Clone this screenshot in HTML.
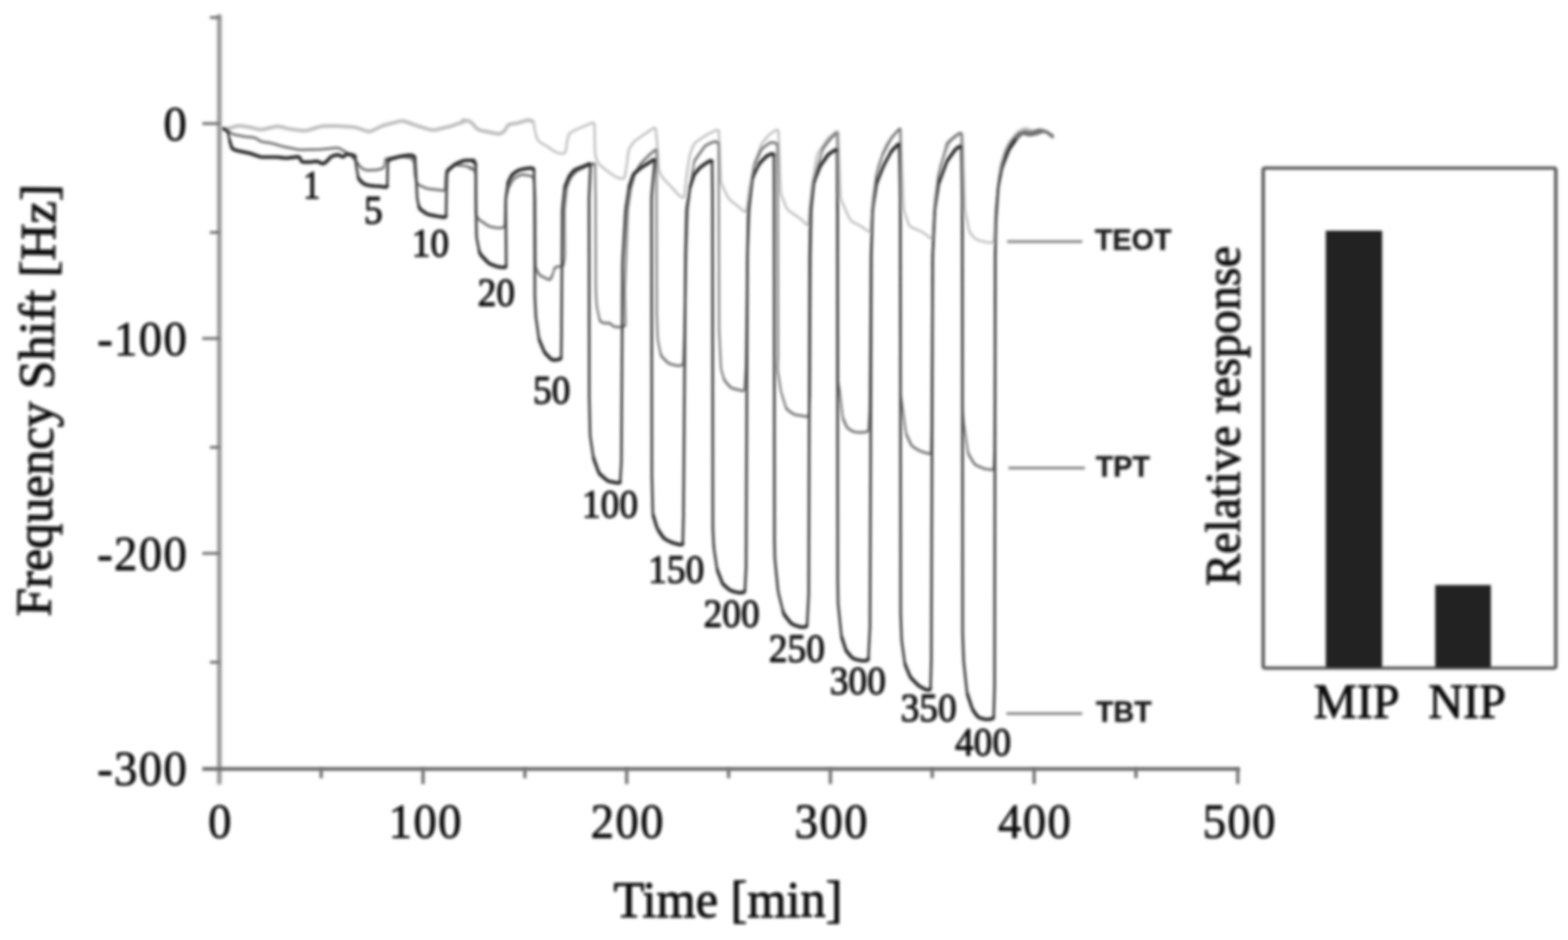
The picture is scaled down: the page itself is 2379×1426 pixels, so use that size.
<!DOCTYPE html>
<html lang="en"><head><meta charset="utf-8"><title>Frequency shift vs time</title>
<style>html,body{margin:0;padding:0;background:#fff;overflow:hidden;width:2379px;height:1426px}svg{display:block}text{font-family:"Liberation Serif","DejaVu Serif",serif;fill:#0c0c0c}.b{font-family:"Liberation Sans","DejaVu Sans",sans-serif;font-weight:bold}</style></head><body>
<svg width="2379" height="1426" viewBox="0 0 2379 1426">
<defs><filter id="bl" filterUnits="userSpaceOnUse" x="0" y="0" width="2379" height="1426"><feGaussianBlur stdDeviation="1.9"/></filter><filter id="by" filterUnits="userSpaceOnUse" x="0" y="0" width="2379" height="1426"><feGaussianBlur stdDeviation="2.4"/></filter><filter id="bk" filterUnits="userSpaceOnUse" x="0" y="0" width="2379" height="1426"><feGaussianBlur stdDeviation="1.6"/></filter><filter id="bt" filterUnits="userSpaceOnUse" x="0" y="0" width="2379" height="1426"><feGaussianBlur stdDeviation="2.0"/></filter></defs>
<rect width="2379" height="1426" fill="#fff"/>
<g filter="url(#bl)" fill="none" stroke-linejoin="round" stroke-linecap="round">
<path d="M338.5,195.4 L341.9,195.4 L343.6,195.3 L345.6,195.1 L347.7,194.6 L350.0,194.0 L357.3,191.8 L359.7,191.2 L362.1,190.9 L364.6,190.9 L367.0,191.1 L374.0,192.2 L376.4,192.6 L378.9,193.0 L381.3,193.5 L383.7,194.1 L390.9,195.9 L393.3,196.4 L395.7,196.5 L398.2,196.4 L400.6,196.0 L416.1,192.4 L418.5,191.9 L421.0,191.8 L423.4,192.0 L425.8,192.4 L432.9,194.2 L435.4,194.8 L437.8,195.3 L440.3,195.7 L442.8,196.1 L458.1,198.1 L460.5,198.3 L463.0,198.3 L465.4,198.0 L467.8,197.4 L483.5,192.7 L485.9,192.0 L488.3,191.6 L490.8,191.3 L493.3,191.2 L508.5,191.2 L511.0,191.2 L513.5,191.3 L516.0,191.4 L518.5,191.6 L533.8,192.6 L536.3,192.8 L538.7,193.2 L541.1,193.8 L543.5,194.5 L555.9,198.8 L558.3,199.4 L560.6,199.5 L562.9,199.1 L565.1,198.2 L576.4,192.6 L578.6,191.6 L580.9,190.6 L583.3,189.8 L585.7,189.2 L606.3,184.0 L608.7,183.6 L611.1,183.6 L613.5,183.9 L615.8,184.6 L626.6,188.6 L629.0,189.5 L631.3,190.3 L633.7,191.1 L636.1,191.8 L651.8,196.5 L654.2,197.1 L656.6,197.3 L659.0,197.2 L661.4,196.8 L676.9,193.2 L679.4,192.6 L681.8,192.0 L684.2,191.3 L686.5,190.5 L702.3,185.2 L704.2,184.5 L705.0,183.8 L704.8,183.3 L703.5,182.8 L703.5,182.8 L702.3,182.5 L702.1,182.3 L703.0,182.4 L705.0,182.6 L708.5,183.0 L710.9,183.5 L713.0,184.4 L715.0,185.7 L716.8,187.4 L721.9,193.4 L723.7,195.1 L725.6,196.4 L727.8,197.4 L730.1,198.1 L737.2,199.5 L739.6,200.0 L742.1,200.5 L744.5,201.0 L747.0,201.5 L754.0,202.9 L756.4,203.1 L758.6,202.8 L760.8,202.0 L762.8,200.7 L763.4,200.2 L765.2,198.6 L766.8,196.8 L768.0,194.9 L769.0,192.9 L769.0,192.9 L770.0,191.0 L771.5,189.6 L773.4,188.6 L775.6,188.1 L779.2,187.6 L781.6,187.3 L784.1,186.8 L786.5,186.3 L788.9,185.6 L796.2,183.4 L798.5,182.8 L800.8,182.5 L803.0,182.5 L805.2,182.8 L805.2,182.8 L807.1,183.5 L808.5,184.7 L809.5,186.4 L810.1,188.6 L811.2,195.5 L811.6,198.0 L812.1,200.4 L812.7,202.9 L813.4,205.3 L814.6,209.2 L815.5,211.4 L816.8,213.4 L818.5,215.0 L820.5,216.4 L823.6,218.2 L825.7,219.5 L827.8,220.8 L830.0,222.1 L832.1,223.5 L838.9,228.0 L841.0,229.3 L843.0,230.4 L845.1,231.3 L847.2,232.0 L847.2,232.0 L849.3,232.6 L851.2,232.9 L853.1,233.0 L854.8,232.9 L854.8,232.9 L856.3,232.4 L857.5,231.3 L858.3,229.7 L858.7,227.5 L859.3,222.3 L859.6,219.8 L860.0,217.3 L860.4,214.9 L861.0,212.4 L862.1,207.0 L862.9,204.8 L864.1,202.8 L865.7,201.2 L867.7,199.9 L872.2,197.7 L874.5,196.6 L876.7,195.5 L879.0,194.5 L881.3,193.5 L894.0,188.1 L896.1,187.3 L897.8,186.7 L899.2,186.3 L900.3,186.2 L900.3,186.2 L901.0,186.5 L901.5,187.4 L901.9,189.0 L902.0,191.2 L902.7,229.1 L902.8,231.6 L903.1,234.1 L903.6,236.5 L904.3,238.9 L905.5,242.8 L906.4,245.1 L907.6,247.2 L909.0,249.1 L910.8,250.9 L915.0,254.4 L916.9,256.0 L918.8,257.6 L920.8,259.1 L922.9,260.6 L931.5,266.6 L933.6,267.9 L935.8,269.0 L938.1,269.9 L940.5,270.5 L942.5,271.0 L944.7,271.1 L946.3,270.5 L947.5,269.2 L948.2,267.1 L949.9,255.9 L950.3,253.4 L950.7,251.0 L951.1,248.5 L951.4,246.0 L953.4,230.7 L953.9,228.3 L954.7,225.9 L955.7,223.7 L957.0,221.7 L959.6,218.0 L961.1,216.1 L962.8,214.3 L964.7,212.6 L966.7,211.2 L973.5,206.6 L975.6,205.2 L977.6,203.8 L979.7,202.4 L981.8,201.0 L990.4,194.9 L992.2,194.0 L993.6,194.0 L994.5,195.0 L995.0,197.0 L996.5,212.3 L996.8,214.8 L997.0,217.3 L997.2,219.8 L997.3,222.3 L999.2,254.4 L999.5,256.8 L1000.1,259.2 L1000.9,261.5 L1002.0,263.7 L1003.8,266.8 L1005.1,268.9 L1006.5,271.0 L1008.1,272.9 L1009.8,274.7 L1016.2,281.1 L1017.9,282.9 L1019.7,284.7 L1021.3,286.5 L1023.0,288.4 L1026.6,292.6 L1028.3,294.4 L1030.1,296.1 L1032.0,297.6 L1034.0,298.9 L1034.0,298.9 L1035.9,299.7 L1037.3,299.6 L1038.3,298.5 L1038.7,296.5 L1041.1,272.8 L1041.4,270.3 L1041.7,267.8 L1042.0,265.3 L1042.3,262.9 L1045.9,239.1 L1046.4,236.6 L1046.9,234.2 L1047.7,231.8 L1048.5,229.5 L1051.5,222.0 L1052.6,219.7 L1053.9,217.8 L1055.6,216.0 L1057.5,214.4 L1066.1,208.4 L1068.2,207.0 L1070.3,205.7 L1072.5,204.5 L1074.7,203.3 L1085.9,197.7 L1087.9,197.0 L1089.3,197.2 L1090.3,198.4 L1090.6,200.4 L1091.9,229.1 L1092.0,231.6 L1092.1,234.1 L1092.2,236.6 L1092.3,239.1 L1093.3,271.2 L1093.5,273.7 L1094.0,276.1 L1094.6,278.4 L1095.6,280.7 L1103.1,296.9 L1104.3,299.1 L1105.7,301.1 L1107.3,302.9 L1109.1,304.6 L1118.2,311.8 L1120.1,313.4 L1122.1,314.9 L1124.0,316.5 L1125.9,318.1 L1128.3,320.1 L1130.0,321.2 L1131.4,321.3 L1132.3,320.3 L1132.8,318.4 L1136.6,289.6 L1136.9,287.1 L1137.3,284.6 L1137.7,282.2 L1138.2,279.7 L1143.0,255.9 L1143.5,253.4 L1144.1,251.0 L1144.8,248.6 L1145.6,246.2 L1154.1,222.0 L1155.0,219.7 L1156.1,217.6 L1157.5,215.5 L1159.0,213.6 L1165.9,205.9 L1167.6,204.1 L1169.4,202.5 L1171.4,201.0 L1173.5,199.7 L1176.6,197.9 L1178.5,197.1 L1179.9,197.3 L1180.8,198.4 L1181.1,200.4 L1184.2,288.0 L1184.4,290.5 L1184.8,292.9 L1185.4,295.3 L1186.2,297.7 L1192.6,313.6 L1193.6,315.8 L1195.0,317.8 L1196.7,319.5 L1198.6,321.1 L1210.5,329.0 L1212.5,330.4 L1214.5,331.9 L1216.4,333.6 L1218.2,335.3 L1222.9,340.0 L1224.4,341.2 L1225.6,341.4 L1226.4,340.5 L1226.8,338.5 L1231.0,289.6 L1231.3,287.1 L1231.6,284.6 L1231.9,282.2 L1232.3,279.7 L1239.0,239.1 L1239.6,236.7 L1240.4,234.3 L1241.4,232.1 L1242.6,230.0 L1253.9,213.1 L1255.4,211.0 L1257.0,209.2 L1258.7,207.4 L1260.6,205.8 L1267.9,200.2 L1269.6,199.2 L1270.9,199.1 L1271.7,200.1 L1272.0,202.1 L1275.0,296.5 L1275.2,298.9 L1275.7,301.3 L1276.3,303.7 L1277.3,306.0 L1288.3,330.5 L1289.5,332.7 L1291.0,334.5 L1292.7,336.1 L1294.8,337.3 L1302.7,341.3 L1304.9,342.5 L1307.1,343.7 L1309.1,345.1 L1311.2,346.5 L1316.6,350.6 L1318.4,351.6 L1319.7,351.6 L1320.6,350.6 L1321.0,348.6 L1323.7,306.4 L1323.9,303.9 L1324.1,301.5 L1324.4,299.0 L1324.8,296.5 L1331.6,255.9 L1332.1,253.5 L1332.7,251.0 L1333.4,248.7 L1334.3,246.3 L1344.0,222.0 L1345.0,219.7 L1346.2,217.5 L1347.6,215.5 L1349.1,213.5 L1362.8,197.5 L1364.3,196.2 L1365.3,196.0 L1366.0,196.8 L1366.3,198.7 L1370.9,313.3 L1371.1,315.8 L1371.5,318.2 L1372.0,320.6 L1372.7,323.0 L1378.0,338.8 L1378.9,341.0 L1380.3,342.8 L1382.0,344.3 L1384.2,345.4 L1395.1,350.0 L1397.4,351.0 L1399.6,352.2 L1401.7,353.5 L1403.7,355.0 L1410.9,360.6 L1412.7,361.7 L1414.0,361.7 L1414.8,360.7 L1415.1,358.7 L1418.0,306.4 L1418.1,304.0 L1418.4,301.5 L1418.7,299.0 L1419.1,296.5 L1425.8,255.9 L1426.3,253.5 L1426.9,251.0 L1427.7,248.7 L1428.5,246.3 L1439.9,218.6 L1441.0,216.4 L1442.3,214.4 L1444.0,212.6 L1445.8,211.0 L1456.3,203.4 L1458.0,202.5 L1459.3,202.5 L1460.1,203.5 L1460.5,205.5 L1463.8,313.3 L1463.9,315.8 L1464.2,318.3 L1464.5,320.7 L1464.9,323.2 L1469.7,347.0 L1470.3,349.4 L1471.2,351.7 L1472.4,353.8 L1473.9,355.7 L1477.5,359.9 L1479.2,361.7 L1481.2,363.1 L1483.3,364.2 L1485.6,364.9 L1489.4,365.9 L1491.8,366.4 L1494.3,366.9 L1496.7,367.4 L1499.2,367.7 L1502.7,368.1 L1504.9,368.1 L1506.5,367.4 L1507.6,365.9 L1508.0,363.8 L1510.7,323.3 L1510.9,320.8 L1511.1,318.3 L1511.3,315.8 L1511.6,313.3 L1517.3,255.9 L1517.6,253.5 L1518.1,251.0 L1518.7,248.6 L1519.4,246.2 L1526.3,225.4 L1527.2,223.1 L1528.2,220.9 L1529.5,218.7 L1530.9,216.7 L1540.0,204.5 L1541.6,202.6 L1543.4,200.9 L1545.3,199.3 L1547.4,198.0 L1550.5,196.2 L1552.7,195.3 L1554.9,194.8 L1557.2,194.9 L1559.5,195.5 L1563.6,197.0 L1565.9,197.7 L1568.2,197.9 L1570.4,197.7 L1572.5,197.1 L1572.5,197.1 L1574.6,196.5 L1576.8,196.2 L1579.1,196.3 L1581.5,196.8 L1583.7,197.4 L1586.0,198.2 L1588.2,199.2 L1590.4,200.5 L1592.4,201.9 L1596.9,205.5" stroke="#bcbcbc" stroke-width="3.4"/>
<path d="M338.5,195.4 L341.9,195.4 L343.6,195.3 L345.6,195.1 L347.7,194.6 L350.0,194.0 L357.3,191.8 L359.7,191.2 L362.1,190.9 L364.6,190.9 L367.0,191.1 L374.0,192.2 L376.4,192.6 L378.9,193.0 L381.3,193.5 L383.7,194.1 L390.9,195.9 L393.3,196.4 L395.7,196.5 L398.2,196.4 L400.6,196.0 L416.1,192.4 L418.5,191.9 L421.0,191.8 L423.4,192.0 L425.8,192.4 L432.9,194.2 L435.4,194.8 L437.8,195.3 L440.3,195.7 L442.8,196.1 L458.1,198.1 L460.5,198.3 L463.0,198.3 L465.4,198.0 L467.8,197.4 L483.5,192.7 L485.9,192.0 L488.3,191.6 L490.8,191.3 L493.3,191.2 L508.5,191.2 L511.0,191.2 L513.5,191.3 L516.0,191.4 L518.5,191.6 L533.8,192.6 L536.3,192.8 L538.7,193.2 L541.1,193.8 L543.5,194.5 L555.9,198.8 L558.3,199.4 L560.6,199.5 L562.9,199.1 L565.1,198.2 L576.4,192.6 L578.6,191.6 L580.9,190.6 L583.3,189.8 L585.7,189.2 L606.3,184.0 L608.7,183.6 L611.1,183.6 L613.5,183.9 L615.8,184.6 L626.6,188.6 L629.0,189.5 L631.3,190.3 L633.7,191.1 L636.1,191.8 L651.8,196.5 L654.2,197.1 L656.6,197.3 L659.0,197.2 L661.4,196.8 L676.9,193.2 L679.4,192.6 L681.8,192.0 L684.2,191.3 L686.5,190.5 L702.3,185.2 L704.2,184.5 L705.0,183.8 M704.8,183.3 L703.5,182.8 L703.5,182.8 L702.3,182.5 L702.1,182.3 L703.0,182.4 L705.0,182.6 L708.5,183.0 L710.9,183.5 L713.0,184.4 L715.0,185.7 L716.8,187.4 L721.9,193.4 L723.7,195.1 L725.6,196.4 L727.8,197.4 L730.1,198.1 L737.2,199.5 L739.6,200.0 L742.1,200.5 L744.5,201.0 L747.0,201.5 L754.0,202.9 L756.4,203.1 L758.6,202.8 L760.8,202.0 L762.8,200.7 L763.4,200.2 L765.2,198.6 L766.8,196.8 M769.0,192.9 L769.0,192.9 M770.0,191.0 L771.5,189.6 L773.4,188.6 L775.6,188.1 L779.2,187.6 L781.6,187.3 L784.1,186.8 L786.5,186.3 L788.9,185.6 L796.2,183.4 L798.5,182.8 L800.8,182.5 L803.0,182.5 L805.2,182.8 L805.2,182.8 L807.1,183.5 L808.5,184.7" stroke="#bcbcbc" stroke-width="5.4"/>
<path d="M338.5,195.4 L341.9,197.1 L343.6,198.0 L345.3,198.9 L347.0,199.9 L348.7,200.9 L350.2,201.8 L352.0,202.7 L353.8,203.5 L355.6,204.2 L357.6,204.6 L366.6,206.4 L368.5,206.8 L370.5,207.1 L372.5,207.4 L374.5,207.6 L383.3,208.5 L385.3,208.8 L387.1,209.4 L388.9,210.2 L390.6,211.2 L392.4,212.5 L394.1,213.5 L395.9,214.4 L397.7,215.0 L399.7,215.4 L408.6,216.7 L410.6,217.0 L412.5,217.5 L414.5,217.9 L416.4,218.5 L425.6,221.2 L427.5,221.8 L429.4,222.3 L431.3,222.7 L433.3,223.1 L450.7,226.6 L452.7,227.0 L454.6,227.2 L456.6,227.3 L458.6,227.3 L484.3,226.7 L486.3,226.6 L488.3,226.5 L490.3,226.3 L492.3,226.2 L509.5,224.4 L511.5,224.4 L513.4,224.7 L515.2,225.2 L517.0,226.1 L518.5,227.0 L520.2,228.1 L521.9,229.1 L523.7,230.1 L525.4,231.1 L526.9,232.1 L528.6,233.2 L530.2,234.3 L531.7,235.6 L533.2,237.0 L537.6,241.4 L539.0,242.9 L540.3,244.4 L541.5,245.9 L542.7,247.6 L545.0,251.0 L546.2,252.6 L547.5,253.9 L549.1,255.1 L550.8,256.1 L552.0,256.8 L553.8,257.5 L555.7,258.0 L557.6,258.3 L559.6,258.3 L568.4,257.9 L570.4,257.8 L572.4,257.5 L574.4,257.2 L576.3,256.7 L578.6,256.1 L580.4,255.5 L581.7,254.4 L582.6,253.0 L583.1,251.2 L583.6,248.2 L583.9,246.4 L584.2,244.8 L584.4,243.5 L584.6,242.6 L584.6,242.6 L585.1,241.8 L585.9,241.1 L587.2,240.6 L589.0,240.2 L602.1,238.1 L604.1,237.9 L606.1,237.8 L608.1,237.8 L610.1,237.9 L618.9,238.8 L620.8,239.1 L622.5,239.7 L624.1,240.6 L625.4,241.7 L625.4,241.7 L626.5,243.1 L627.4,244.6 L628.0,246.3 L628.2,248.2 L629.3,263.8 L629.5,265.8 L629.8,267.8 L630.2,269.7 L630.7,271.6 L631.9,275.7 L632.6,277.5 L633.6,279.0 L635.0,280.2 L636.7,281.2 L644.5,284.7 L646.3,285.4 L648.2,286.0 L650.2,286.4 L652.1,286.7 L661.0,287.6 L663.0,287.8 L665.0,288.1 L666.9,288.3 L668.9,288.6 L671.1,289.0 L672.9,289.1 L674.1,288.5 L674.9,287.4 L675.2,285.7 L675.8,271.8 L675.9,269.8 L676.0,267.8 L676.3,265.8 L676.6,263.8 L676.9,261.6 L677.4,259.8 L678.3,258.2 L679.5,256.8 L681.0,255.6 L686.8,252.2 L688.5,251.3 L690.4,250.7 L692.2,250.5 L694.2,250.5 L703.1,251.4 L705.0,251.7 L707.0,252.0 L708.9,252.5 L710.8,253.0 L716.2,254.8 L717.6,255.3 L718.1,255.5 L717.5,255.6 L716.1,255.3 L714.0,255.0 L712.6,254.8 L712.0,254.8 L712.5,255.1 L713.9,255.6 L716.4,256.4 L718.1,257.2 L719.4,258.4 L720.3,259.8 L720.9,261.6 L721.2,263.8 L721.5,265.8 L721.7,267.8 L721.8,269.8 L721.9,271.8 L721.9,322.7 L722.0,324.6 L722.5,326.5 L723.2,328.2 L724.3,329.9 L724.5,330.2 L725.8,331.8 L727.2,333.2 L728.6,334.5 L730.3,335.6 L738.7,341.3 L740.4,342.3 L742.2,343.2 L744.1,343.8 L746.0,344.3 L751.6,345.3 L753.6,345.6 L755.5,345.8 L757.5,345.8 L759.5,345.7 L761.6,345.5 L763.4,345.1 L764.7,344.3 L765.5,343.0 L765.8,341.2 L767.2,305.4 L767.3,303.5 L767.5,301.5 L767.9,299.5 L768.4,297.6 L771.3,286.8 L771.9,284.9 L772.6,283.0 L773.4,281.2 L774.3,279.5 L777.1,274.6 L778.2,273.0 L779.5,271.5 L780.9,270.3 L782.6,269.2 L787.4,266.4 L789.2,265.6 L791.0,265.1 L792.9,264.9 L794.8,265.1 L797.0,265.5 L799.0,265.8 L801.0,266.1 L802.9,266.5 L804.9,266.9 L805.5,267.0 L807.2,267.6 L808.5,268.6 L809.3,270.0 L809.7,271.8 L811.7,296.0 L811.8,298.0 L811.9,300.0 L812.0,302.0 L812.0,304.0 L812.5,386.0 L812.5,388.0 L812.5,390.0 L812.5,392.0 L812.6,394.0 L812.7,401.2 L812.8,403.2 L813.1,405.2 L813.6,407.1 L814.3,408.9 L816.2,413.3 L817.1,415.1 L818.3,416.5 L819.7,417.8 L821.4,418.8 L831.0,423.6 L832.7,424.2 L834.1,424.1 L835.3,423.3 L836.2,421.8 L838.1,417.3 L838.8,415.5 L839.5,413.6 L840.0,411.7 L840.5,409.7 L840.6,409.2 L841.2,407.4 L842.2,406.1 L843.5,405.2 L845.3,404.7 L850.8,404.1 L852.6,403.6 L854.0,402.7 L854.9,401.4 L855.5,399.6 L856.4,393.9 L856.6,392.0 L856.8,390.0 L856.9,388.0 L857.0,386.0 L856.5,322.3 L856.5,320.3 L856.6,318.3 L856.7,316.3 L856.9,314.3 L859.5,288.6 L859.7,286.6 L860.1,284.7 L860.7,282.8 L861.4,280.9 L865.1,271.5 L865.9,269.7 L866.9,268.0 L868.1,266.4 L869.4,265.0 L872.2,262.2 L873.6,260.9 L875.2,259.6 L876.8,258.6 L878.6,257.6 L881.5,256.1 L883.3,255.2 L885.1,254.4 L887.0,253.6 L888.8,252.8 L893.2,250.9 L895.0,250.1 L896.7,249.5 L898.3,248.9 L899.8,248.4 L899.8,248.4 L901.1,248.3 L902.1,248.8 L902.6,249.9 L902.8,251.6 L903.5,296.0 L903.6,298.0 L903.6,300.0 L903.6,302.0 L903.6,304.0 L904.0,436.0 L904.0,438.0 L904.1,440.0 L904.1,442.0 L904.2,444.0 L905.1,460.1 L905.2,462.1 L905.5,464.1 L905.8,466.1 L906.1,468.1 L909.5,483.8 L910.1,485.6 L911.1,487.1 L912.4,488.3 L914.1,489.2 L915.0,489.6 L916.8,490.2 L918.5,490.5 L920.0,490.5 L921.3,490.2 L921.3,490.2 L922.6,490.0 L924.0,490.2 L925.4,490.8 L926.9,491.9 L929.1,493.6 L930.7,494.7 L932.4,495.5 L934.3,496.0 L936.2,496.1 L940.0,496.1 L941.9,496.1 L943.6,495.9 L945.2,495.6 L946.5,495.3 L946.5,495.3 L947.6,494.7 L948.4,493.6 L948.9,492.2 L949.0,490.4 L948.1,444.0 L948.1,442.0 L948.1,440.0 L948.1,438.0 L948.2,436.0 L949.8,394.0 L949.9,392.0 L950.0,390.0 L950.1,388.0 L950.1,386.0 L952.3,322.3 L952.4,320.3 L952.5,318.3 L952.7,316.3 L953.0,314.3 L956.9,288.6 L957.2,286.6 L957.6,284.7 L958.0,282.7 L958.6,280.8 L963.1,264.9 L963.7,263.0 L964.5,261.2 L965.3,259.4 L966.3,257.7 L970.5,251.0 L971.6,249.3 L972.8,247.7 L974.1,246.2 L975.4,244.8 L983.2,237.0 L984.7,235.6 L986.1,234.2 L987.6,232.9 L989.1,231.6 L993.1,228.3 L994.4,227.4 L995.4,227.4 L996.0,228.1 L996.2,229.7 L996.0,296.0 L996.0,298.0 L996.0,300.0 L996.0,302.0 L996.0,304.0 L996.5,476.0 L996.5,478.0 L996.5,480.0 L996.6,482.0 L996.7,484.0 L997.7,510.6 L997.8,512.6 L998.0,514.6 L998.3,516.6 L998.6,518.5 L1002.1,535.9 L1002.6,537.8 L1003.4,539.6 L1004.4,541.2 L1005.7,542.7 L1011.9,548.8 L1013.3,550.1 L1014.9,551.2 L1016.7,552.0 L1018.6,552.6 L1024.3,554.0 L1026.2,554.4 L1028.2,554.7 L1030.1,554.7 L1032.1,554.6 L1032.6,554.6 L1034.3,554.1 L1035.6,553.3 L1036.4,551.9 L1036.7,550.2 L1038.4,504.0 L1038.4,502.0 L1038.5,500.0 L1038.5,498.0 L1038.6,496.0 L1040.9,394.0 L1041.0,392.0 L1041.0,390.0 L1041.1,388.0 L1041.1,386.0 L1043.2,322.3 L1043.2,320.3 L1043.4,318.3 L1043.5,316.3 L1043.8,314.3 L1047.9,280.2 L1048.1,278.2 L1048.4,276.2 L1048.7,274.2 L1049.0,272.3 L1052.8,248.2 L1053.2,246.3 L1053.8,244.4 L1054.7,242.7 L1055.7,241.0 L1067.9,223.9 L1069.1,222.4 L1070.5,221.1 L1072.1,220.0 L1073.9,219.1 L1081.7,215.6 L1083.5,215.0 L1085.1,214.8 L1086.6,215.0 L1087.9,215.6 L1087.9,215.6 L1089.0,216.6 L1089.8,217.9 L1090.3,219.5 L1090.4,221.3 L1090.5,296.0 L1090.5,298.0 L1090.5,300.0 L1090.5,302.0 L1090.5,304.0 L1091.0,496.0 L1091.0,498.0 L1091.0,500.0 L1091.1,502.0 L1091.2,504.0 L1093.7,556.0 L1093.9,558.0 L1094.1,560.0 L1094.5,561.9 L1095.1,563.8 L1097.8,573.0 L1098.5,574.9 L1099.3,576.6 L1100.3,578.3 L1101.6,579.9 L1106.5,585.6 L1107.8,587.0 L1109.4,588.1 L1111.1,589.0 L1112.9,589.6 L1125.4,592.7 L1127.1,592.9 L1128.3,592.4 L1129.2,591.4 L1129.5,589.7 L1131.2,564.0 L1131.4,562.0 L1131.4,560.0 L1131.5,558.0 L1131.6,556.0 L1133.9,394.0 L1134.0,392.0 L1134.0,390.0 L1134.1,388.0 L1134.2,386.0 L1137.0,322.3 L1137.1,320.3 L1137.3,318.3 L1137.4,316.3 L1137.6,314.3 L1143.5,254.9 L1143.8,253.0 L1144.3,251.1 L1144.9,249.2 L1145.6,247.3 L1154.0,229.4 L1155.0,227.6 L1156.1,226.0 L1157.4,224.6 L1158.9,223.3 L1166.0,218.0 L1167.6,217.0 L1169.4,216.4 L1171.2,216.1 L1173.1,216.3 L1175.3,216.7 L1177.1,217.2 L1178.3,218.1 L1179.1,219.5 L1179.3,221.3 L1180.0,296.0 L1180.0,298.0 L1180.0,300.0 L1180.0,302.0 L1180.0,304.0 L1180.5,536.0 L1180.5,538.0 L1180.5,540.0 L1180.4,542.0 L1180.3,544.0 L1179.9,556.0 L1179.9,558.0 L1179.9,560.0 L1180.1,562.0 L1180.3,564.0 L1184.2,589.7 L1184.5,591.7 L1184.9,593.6 L1185.4,595.6 L1186.0,597.5 L1192.0,616.8 L1192.7,618.6 L1193.7,620.2 L1194.9,621.6 L1196.4,622.9 L1201.7,626.7 L1203.4,627.7 L1205.1,628.6 L1207.0,629.2 L1208.9,629.6 L1222.9,631.8 L1224.6,631.8 L1225.9,631.2 L1226.8,630.1 L1227.1,628.4 L1228.7,604.0 L1228.9,602.0 L1228.9,600.0 L1229.0,598.0 L1229.0,596.0 L1230.0,394.0 L1230.0,392.0 L1230.0,390.0 L1230.0,388.0 L1230.1,386.0 L1231.4,322.3 L1231.4,320.3 L1231.5,318.3 L1231.7,316.3 L1231.8,314.3 L1236.1,271.8 L1236.3,269.8 L1236.7,267.8 L1237.1,265.9 L1237.6,263.9 L1247.2,229.6 L1247.8,227.7 L1248.6,225.9 L1249.6,224.2 L1250.7,222.5 L1256.0,215.5 L1257.2,213.9 L1258.5,212.4 L1259.8,210.9 L1261.2,209.4 L1267.3,203.3 L1268.6,202.3 L1269.5,202.2 L1270.0,202.9 L1270.2,204.5 L1271.0,296.0 L1271.0,298.0 L1271.0,300.0 L1271.0,302.0 L1271.0,304.0 L1271.5,576.0 L1271.5,578.0 L1271.7,580.0 L1272.0,582.0 L1272.3,583.9 L1272.9,586.6 L1273.2,588.5 L1273.6,590.5 L1273.9,592.5 L1274.1,594.5 L1278.2,630.3 L1278.5,632.2 L1279.0,634.2 L1279.6,636.0 L1280.3,637.9 L1283.8,645.7 L1284.7,647.5 L1285.9,649.0 L1287.3,650.3 L1288.9,651.4 L1292.1,653.3 L1293.8,654.2 L1295.7,654.8 L1297.6,655.3 L1299.5,655.6 L1303.3,655.8 L1305.3,655.9 L1307.3,655.9 L1309.3,655.8 L1311.3,655.6 L1313.4,655.4 L1315.2,654.9 L1316.5,654.1 L1317.3,652.7 L1317.6,650.9 L1319.3,624.0 L1319.4,622.0 L1319.4,620.0 L1319.5,618.0 L1319.5,616.0 L1321.0,394.0 L1321.0,392.0 L1321.0,390.0 L1321.1,388.0 L1321.2,386.0 L1323.8,322.3 L1323.9,320.3 L1324.1,318.3 L1324.2,316.3 L1324.4,314.3 L1328.7,271.8 L1328.9,269.8 L1329.2,267.8 L1329.7,265.9 L1330.2,264.0 L1338.0,238.0 L1338.6,236.1 L1339.3,234.2 L1340.1,232.4 L1341.0,230.6 L1350.7,212.4 L1351.7,210.7 L1352.8,209.0 L1354.0,207.4 L1355.3,205.9 L1363.4,196.7 L1364.6,195.7 L1365.4,195.5 L1365.9,196.2 L1366.1,197.8 L1366.0,296.0 L1366.0,298.0 L1366.0,300.0 L1366.0,302.0 L1366.0,304.0 L1366.5,596.0 L1366.5,598.0 L1366.7,599.9 L1366.9,601.8 L1367.2,603.7 L1367.2,603.7 L1367.5,605.5 L1367.9,607.4 L1368.1,609.3 L1368.4,611.3 L1374.1,653.8 L1374.4,655.8 L1374.9,657.7 L1375.5,659.6 L1376.3,661.4 L1381.4,672.7 L1382.3,674.4 L1383.5,675.9 L1384.8,677.3 L1386.4,678.5 L1391.5,681.7 L1393.2,682.7 L1394.9,683.6 L1396.8,684.4 L1398.6,685.1 L1404.5,686.9 L1406.3,687.4 L1407.9,687.9 L1409.2,688.2 L1410.4,688.5 L1410.4,688.5 L1411.3,688.4 L1412.0,687.8 L1412.4,686.7 L1412.6,684.9 L1413.4,654.0 L1413.4,652.0 L1413.5,650.0 L1413.5,648.0 L1413.5,646.0 L1415.0,394.0 L1415.0,392.0 L1415.0,390.0 L1415.1,388.0 L1415.2,386.0 L1418.1,322.3 L1418.2,320.3 L1418.3,318.3 L1418.5,316.3 L1418.6,314.3 L1422.9,271.8 L1423.1,269.8 L1423.4,267.8 L1423.8,265.9 L1424.3,263.9 L1435.7,221.2 L1436.4,219.3 L1437.2,217.6 L1438.4,216.1 L1439.8,214.7 L1447.2,208.2 L1448.7,206.9 L1450.3,205.7 L1452.0,204.5 L1453.6,203.5 L1455.2,202.5 L1456.7,201.9 L1457.8,202.0 L1458.4,202.9 L1458.7,204.5 L1459.9,296.0 L1460.0,298.0 L1460.0,300.0 L1460.0,302.0 L1460.0,304.0 L1460.5,616.0 L1460.5,618.0 L1460.6,620.0 L1460.7,622.0 L1460.8,624.0 L1461.8,637.0 L1462.0,639.0 L1462.2,641.0 L1462.4,642.9 L1462.7,644.9 L1468.3,684.1 L1468.7,686.1 L1469.2,688.0 L1470.0,689.8 L1470.9,691.5 L1476.9,701.5 L1478.0,703.1 L1479.4,704.5 L1480.9,705.6 L1482.6,706.5 L1488.8,709.2 L1490.6,709.9 L1492.5,710.6 L1494.4,711.1 L1496.4,711.5 L1503.6,712.7 L1505.4,712.7 L1506.6,712.2 L1507.4,711.0 L1507.7,709.3 L1508.8,684.0 L1508.9,682.0 L1509.0,680.0 L1509.0,678.0 L1509.0,676.0 L1510.0,394.0 L1510.0,392.0 L1510.0,390.0 L1510.0,388.0 L1510.1,386.0 L1511.0,322.3 L1511.1,320.3 L1511.1,318.3 L1511.3,316.3 L1511.5,314.3 L1515.7,271.8 L1515.9,269.8 L1516.3,267.8 L1516.6,265.9 L1517.1,263.9 L1523.6,238.0 L1524.1,236.1 L1524.7,234.2 L1525.5,232.4 L1526.3,230.6 L1532.8,217.5 L1533.8,215.8 L1534.9,214.1 L1536.1,212.6 L1537.5,211.1 L1545.3,203.3 L1546.7,202.2 L1548.3,201.6 L1550.0,201.5 L1551.8,202.1 L1556.2,204.0 L1558.0,204.6 L1559.9,205.0 L1561.9,205.1 L1563.8,205.0 L1567.7,204.4 L1569.7,204.1 L1571.6,203.6 L1573.5,203.1 L1575.4,202.4 L1581.4,200.2 L1583.2,199.7 L1585.0,199.6 L1586.8,200.0 L1588.6,200.8 L1596.9,205.5" stroke="#707070" stroke-width="3.0"/>
<path d="M338.5,195.4 L341.9,197.1 L343.6,198.0 L345.3,198.9 L347.0,199.9 L348.7,200.9 L350.2,201.8 L352.0,202.7 L353.8,203.5 L355.6,204.2 L357.6,204.6 L366.6,206.4 L368.5,206.8 L370.5,207.1 L372.5,207.4 L374.5,207.6 L383.3,208.5 L385.3,208.8 L387.1,209.4 L388.9,210.2 L390.6,211.2 L392.4,212.5 L394.1,213.5 L395.9,214.4 L397.7,215.0 L399.7,215.4 L408.6,216.7 L410.6,217.0 L412.5,217.5 L414.5,217.9 L416.4,218.5 L425.6,221.2 L427.5,221.8 L429.4,222.3 L431.3,222.7 L433.3,223.1 L450.7,226.6 L452.7,227.0 L454.6,227.2 L456.6,227.3 L458.6,227.3 L484.3,226.7 L486.3,226.6 L488.3,226.5 L490.3,226.3 L492.3,226.2 L509.5,224.4 L511.5,224.4 L513.4,224.7 L515.2,225.2 L517.0,226.1 L518.5,227.0 L520.2,228.1 L521.9,229.1 L523.7,230.1 L525.4,231.1 L526.9,232.1 L528.6,233.2 L530.2,234.3 L531.7,235.6 L533.2,237.0 L537.6,241.4 L539.0,242.9 L540.3,244.4 L541.5,245.9 L542.7,247.6 L545.0,251.0 L546.2,252.6 L547.5,253.9 L549.1,255.1 L550.8,256.1 L552.0,256.8 L553.8,257.5 L555.7,258.0 L557.6,258.3 L559.6,258.3 L568.4,257.9 L570.4,257.8 L572.4,257.5 L574.4,257.2 L576.3,256.7 L578.6,256.1 L580.4,255.5 L581.7,254.4 L582.6,253.0 M584.6,242.6 L584.6,242.6 L585.1,241.8 L585.9,241.1 L587.2,240.6 L589.0,240.2 L602.1,238.1 L604.1,237.9 L606.1,237.8 L608.1,237.8 L610.1,237.9 L618.9,238.8 L620.8,239.1 L622.5,239.7 L624.1,240.6 L625.4,241.7 L625.4,241.7 L626.5,243.1 L627.4,244.6 M632.6,277.5 L633.6,279.0 L635.0,280.2 L636.7,281.2 L644.5,284.7 L646.3,285.4 L648.2,286.0 L650.2,286.4 L652.1,286.7 L661.0,287.6 L663.0,287.8 L665.0,288.1 L666.9,288.3 L668.9,288.6 L671.1,289.0 L672.9,289.1 L674.1,288.5 L674.9,287.4 M677.4,259.8 L678.3,258.2 L679.5,256.8 L681.0,255.6 L686.8,252.2 L688.5,251.3 L690.4,250.7 L692.2,250.5 L694.2,250.5 L703.1,251.4 L705.0,251.7 L707.0,252.0 L708.9,252.5 L710.8,253.0 L716.2,254.8 L717.6,255.3 L718.1,255.5 L717.5,255.6 L716.1,255.3 L714.0,255.0 L712.6,254.8 L712.0,254.8 L712.5,255.1 L713.9,255.6 L716.4,256.4 L718.1,257.2 L719.4,258.4 L720.3,259.8 M722.5,326.5 L723.2,328.2 L724.3,329.9 L724.5,330.2 L725.8,331.8 L727.2,333.2 L728.6,334.5 L730.3,335.6 L738.7,341.3 L740.4,342.3 L742.2,343.2 L744.1,343.8 L746.0,344.3 L751.6,345.3 L753.6,345.6 L755.5,345.8 L757.5,345.8 L759.5,345.7 L761.6,345.5 L763.4,345.1 L764.7,344.3 L765.5,343.0 M772.6,283.0 L773.4,281.2 L774.3,279.5 L777.1,274.6 L778.2,273.0 L779.5,271.5 L780.9,270.3 L782.6,269.2 L787.4,266.4 L789.2,265.6 L791.0,265.1 L792.9,264.9 L794.8,265.1 L797.0,265.5 L799.0,265.8 L801.0,266.1 L802.9,266.5 L804.9,266.9 L805.5,267.0 L807.2,267.6 L808.5,268.6 L809.3,270.0 M814.3,408.9 L816.2,413.3 L817.1,415.1 L818.3,416.5 L819.7,417.8 L821.4,418.8 L831.0,423.6 L832.7,424.2 L834.1,424.1 L835.3,423.3 L836.2,421.8 L838.1,417.3 M841.2,407.4 L842.2,406.1 L843.5,405.2 L845.3,404.7 L850.8,404.1 L852.6,403.6 L854.0,402.7 L854.9,401.4 M865.1,271.5 L865.9,269.7 L866.9,268.0 L868.1,266.4 L869.4,265.0 L872.2,262.2 L873.6,260.9 L875.2,259.6 L876.8,258.6 L878.6,257.6 L881.5,256.1 L883.3,255.2 L885.1,254.4 L887.0,253.6 L888.8,252.8 L893.2,250.9 L895.0,250.1 L896.7,249.5 L898.3,248.9 L899.8,248.4 L899.8,248.4 L901.1,248.3 L902.1,248.8 L902.6,249.9 M910.1,485.6 L911.1,487.1 L912.4,488.3 L914.1,489.2 L915.0,489.6 L916.8,490.2 L918.5,490.5 L920.0,490.5 L921.3,490.2 L921.3,490.2 L922.6,490.0 L924.0,490.2 L925.4,490.8 L926.9,491.9 L929.1,493.6 L930.7,494.7 L932.4,495.5 L934.3,496.0 L936.2,496.1 L940.0,496.1 L941.9,496.1 L943.6,495.9 L945.2,495.6 L946.5,495.3 L946.5,495.3 L947.6,494.7 L948.4,493.6 M963.7,263.0 L964.5,261.2 L965.3,259.4 L966.3,257.7 L970.5,251.0 L971.6,249.3 L972.8,247.7 L974.1,246.2 L975.4,244.8 L983.2,237.0 L984.7,235.6 L986.1,234.2 L987.6,232.9 L989.1,231.6 L993.1,228.3 L994.4,227.4 L995.4,227.4 L996.0,228.1 M1002.6,537.8 L1003.4,539.6 L1004.4,541.2 L1005.7,542.7 L1011.9,548.8 L1013.3,550.1 L1014.9,551.2 L1016.7,552.0 L1018.6,552.6 L1024.3,554.0 L1026.2,554.4 L1028.2,554.7 L1030.1,554.7 L1032.1,554.6 L1032.6,554.6 L1034.3,554.1 L1035.6,553.3 L1036.4,551.9 M1053.8,244.4 L1054.7,242.7 L1055.7,241.0 L1067.9,223.9 L1069.1,222.4 L1070.5,221.1 L1072.1,220.0 L1073.9,219.1 L1081.7,215.6 L1083.5,215.0 L1085.1,214.8 L1086.6,215.0 L1087.9,215.6 L1087.9,215.6 L1089.0,216.6 L1089.8,217.9 M1098.5,574.9 L1099.3,576.6 L1100.3,578.3 L1101.6,579.9 L1106.5,585.6 L1107.8,587.0 L1109.4,588.1 L1111.1,589.0 L1112.9,589.6 L1125.4,592.7 L1127.1,592.9 L1128.3,592.4 L1129.2,591.4 M1144.9,249.2 L1145.6,247.3 L1154.0,229.4 L1155.0,227.6 L1156.1,226.0 L1157.4,224.6 L1158.9,223.3 L1166.0,218.0 L1167.6,217.0 L1169.4,216.4 L1171.2,216.1 L1173.1,216.3 L1175.3,216.7 L1177.1,217.2 L1178.3,218.1 L1179.1,219.5 M1192.7,618.6 L1193.7,620.2 L1194.9,621.6 L1196.4,622.9 L1201.7,626.7 L1203.4,627.7 L1205.1,628.6 L1207.0,629.2 L1208.9,629.6 L1222.9,631.8 L1224.6,631.8 L1225.9,631.2 L1226.8,630.1 M1247.8,227.7 L1248.6,225.9 L1249.6,224.2 L1250.7,222.5 L1256.0,215.5 L1257.2,213.9 L1258.5,212.4 L1259.8,210.9 L1261.2,209.4 L1267.3,203.3 L1268.6,202.3 L1269.5,202.2 L1270.0,202.9 M1279.6,636.0 L1280.3,637.9 L1283.8,645.7 L1284.7,647.5 L1285.9,649.0 L1287.3,650.3 L1288.9,651.4 L1292.1,653.3 L1293.8,654.2 L1295.7,654.8 L1297.6,655.3 L1299.5,655.6 L1303.3,655.8 L1305.3,655.9 L1307.3,655.9 L1309.3,655.8 L1311.3,655.6 L1313.4,655.4 L1315.2,654.9 L1316.5,654.1 L1317.3,652.7 M1339.3,234.2 L1340.1,232.4 L1341.0,230.6 L1350.7,212.4 L1351.7,210.7 L1352.8,209.0 L1354.0,207.4 L1355.3,205.9 L1363.4,196.7 L1364.6,195.7 L1365.4,195.5 L1365.9,196.2 M1367.2,603.7 L1367.2,603.7 M1375.5,659.6 L1376.3,661.4 L1381.4,672.7 L1382.3,674.4 L1383.5,675.9 L1384.8,677.3 L1386.4,678.5 L1391.5,681.7 L1393.2,682.7 L1394.9,683.6 L1396.8,684.4 L1398.6,685.1 L1404.5,686.9 L1406.3,687.4 L1407.9,687.9 L1409.2,688.2 L1410.4,688.5 L1410.4,688.5 L1411.3,688.4 L1412.0,687.8 M1436.4,219.3 L1437.2,217.6 L1438.4,216.1 L1439.8,214.7 L1447.2,208.2 L1448.7,206.9 L1450.3,205.7 L1452.0,204.5 L1453.6,203.5 L1455.2,202.5 L1456.7,201.9 L1457.8,202.0 L1458.4,202.9 M1469.2,688.0 L1470.0,689.8 L1470.9,691.5 L1476.9,701.5 L1478.0,703.1 L1479.4,704.5 L1480.9,705.6 L1482.6,706.5 L1488.8,709.2 L1490.6,709.9 L1492.5,710.6 L1494.4,711.1 L1496.4,711.5 L1503.6,712.7 L1505.4,712.7 L1506.6,712.2 L1507.4,711.0 M1524.7,234.2 L1525.5,232.4 L1526.3,230.6 L1532.8,217.5 L1533.8,215.8 L1534.9,214.1 L1536.1,212.6 L1537.5,211.1 L1545.3,203.3 L1546.7,202.2 L1548.3,201.6 L1550.0,201.5 L1551.8,202.1 L1556.2,204.0 L1558.0,204.6 L1559.9,205.0 L1561.9,205.1 L1563.8,205.0 L1567.7,204.4 L1569.7,204.1 L1571.6,203.6 L1573.5,203.1 L1575.4,202.4 L1581.4,200.2 L1583.2,199.7 L1585.0,199.6 L1586.8,200.0 L1588.6,200.8 L1596.9,205.5" stroke="#707070" stroke-width="3.8"/>
<path d="M338.5,195.4 L341.9,196.3 L343.4,196.9 L344.6,197.9 L345.5,199.3 L346.0,201.0 L347.8,210.0 L348.2,212.0 L348.7,213.9 L349.2,215.9 L349.7,217.8 L350.9,221.9 L351.6,223.6 L352.5,225.1 L353.8,226.2 L355.3,227.0 L355.3,227.0 L357.1,227.6 L358.8,228.1 L360.7,228.6 L362.6,229.1 L375.0,231.6 L376.9,232.1 L378.9,232.6 L380.8,233.1 L382.7,233.8 L392.0,237.0 L393.9,237.6 L395.8,238.0 L397.7,238.3 L399.7,238.3 L417.0,238.3 L419.0,238.4 L421.0,238.5 L423.0,238.6 L424.9,238.8 L430.5,239.5 L432.4,239.7 L434.4,239.8 L436.4,239.7 L438.4,239.5 L450.7,238.0 L452.5,238.0 L453.9,238.6 L455.0,239.7 L455.8,241.3 L456.0,242.1 L456.8,243.8 L457.9,245.0 L459.3,245.7 L461.1,245.9 L467.5,245.9 L469.4,245.9 L471.4,245.8 L473.4,245.5 L475.4,245.3 L477.6,244.9 L479.5,244.7 L481.4,244.9 L483.2,245.4 L485.0,246.3 L486.5,247.2 L488.2,248.0 L489.9,248.2 L491.5,247.8 L493.2,246.9 L493.5,246.6 L495.0,245.4 L496.5,244.0 L497.8,242.6 L499.1,241.0 L499.3,240.7 L500.6,239.2 L502.1,238.0 L503.8,237.1 L505.6,236.4 L509.7,235.2 L511.6,234.9 L513.4,235.0 L515.1,235.6 L516.7,236.5 L517.1,236.8 L518.6,237.7 L520.1,237.9 L521.5,237.4 L522.8,236.2 L522.8,236.2 L524.1,235.0 L525.7,234.2 L527.4,233.9 L529.2,234.0 L534.8,235.1 L536.6,235.7 L537.9,236.6 L538.8,238.0 L539.2,239.8 L540.0,247.0 L540.2,249.0 L540.5,251.0 L540.8,252.9 L541.1,254.9 L543.2,267.2 L543.6,269.1 L544.4,270.9 L545.4,272.5 L546.6,274.0 L549.4,276.7 L550.9,278.0 L552.5,279.1 L554.2,279.9 L556.1,280.4 L560.1,281.3 L562.1,281.6 L564.0,281.9 L566.0,282.2 L568.0,282.3 L575.2,282.7 L577.1,282.9 L579.1,283.1 L581.1,283.4 L583.1,283.7 L583.6,283.8 L585.4,283.9 L586.6,283.4 L587.4,282.3 L587.6,280.6 L588.3,248.2 L588.4,246.4 L588.7,244.9 L589.1,243.8 L589.7,243.0 L589.7,243.0 L590.5,242.4 L591.6,241.8 L593.0,241.2 L594.8,240.6 L602.2,238.6 L604.2,238.1 L606.1,237.6 L608.1,237.2 L610.0,236.9 L618.9,235.6 L620.9,235.4 L622.8,235.4 L624.5,235.7 L626.3,236.2 L626.3,236.2 L627.8,237.0 L628.8,238.2 L629.5,239.7 L629.9,241.5 L631.1,263.8 L631.2,265.8 L631.3,267.8 L631.4,269.8 L631.5,271.8 L632.8,297.5 L632.9,299.4 L633.2,301.4 L633.5,303.4 L633.9,305.4 L635.5,312.7 L636.1,314.5 L637.0,316.2 L638.1,317.7 L639.6,318.9 L644.9,322.7 L646.6,323.8 L648.3,324.6 L650.1,325.3 L652.1,325.8 L661.1,327.6 L663.0,328.0 L665.0,328.3 L667.0,328.6 L668.9,328.9 L672.8,329.5 L674.5,329.5 L675.8,328.9 L676.5,327.8 L676.8,326.1 L677.5,288.6 L677.6,286.6 L677.6,284.6 L677.7,282.6 L677.7,280.6 L678.3,263.4 L678.5,261.5 L679.2,259.7 L680.1,258.2 L681.5,256.8 L687.2,251.9 L688.7,250.6 L690.4,249.5 L692.1,248.5 L693.9,247.7 L700.0,245.0 L701.9,244.3 L703.8,243.8 L705.7,243.5 L707.7,243.4 L716.0,243.4 L717.7,243.4 L718.6,243.5 L718.9,243.6 L718.4,243.8 L718.4,243.8 L717.9,244.1 L717.9,244.6 L718.3,245.2 L719.4,245.9 L719.4,245.9 L720.5,246.9 L721.2,248.2 L721.7,249.7 L721.9,251.6 L722.0,296.0 L722.0,298.0 L722.0,300.0 L722.0,302.0 L722.1,304.0 L722.9,356.0 L723.0,358.0 L723.2,360.0 L723.4,362.0 L723.8,363.9 L727.2,381.1 L727.7,383.0 L728.5,384.8 L729.5,386.4 L730.7,387.9 L739.3,397.1 L740.7,398.4 L742.3,399.6 L743.9,400.6 L745.8,401.3 L752.2,403.7 L754.1,404.3 L756.1,404.7 L758.0,405.1 L760.0,405.3 L764.0,405.7 L765.8,405.6 L767.0,404.9 L767.7,403.7 L768.0,402.0 L767.3,305.5 L767.4,303.5 L767.5,301.5 L767.6,299.5 L767.8,297.5 L770.1,280.2 L770.5,278.2 L771.0,276.3 L771.8,274.5 L772.7,272.7 L775.4,267.9 L776.5,266.2 L777.7,264.7 L779.2,263.4 L780.7,262.2 L784.2,259.9 L785.9,258.9 L787.7,258.1 L789.5,257.4 L791.4,257.0 L797.0,255.9 L799.0,255.6 L801.0,255.4 L803.0,255.2 L805.0,255.2 L806.2,255.2 L808.0,255.4 L809.2,256.2 L810.0,257.4 L810.3,259.2 L810.9,296.0 L811.0,298.0 L811.0,300.0 L811.0,302.0 L811.0,304.0 L811.5,446.0 L811.5,448.0 L811.5,450.0 L811.6,452.0 L811.7,454.0 L812.8,476.0 L812.9,478.0 L813.1,480.0 L813.3,482.0 L813.5,484.0 L817.2,510.7 L817.6,512.6 L818.0,514.6 L818.6,516.5 L819.3,518.3 L824.7,531.1 L825.5,532.9 L826.5,534.6 L827.7,536.2 L829.0,537.6 L835.2,543.8 L836.6,545.0 L838.3,545.8 L840.0,546.1 L842.0,546.1 L847.5,545.4 L849.2,544.9 L850.5,544.0 L851.2,542.7 L851.5,540.9 L852.0,504.0 L852.0,502.0 L852.0,500.0 L852.0,498.0 L852.0,496.0 L853.1,322.3 L853.1,320.3 L853.2,318.3 L853.4,316.3 L853.5,314.3 L856.1,288.6 L856.4,286.6 L856.8,284.7 L857.3,282.8 L858.0,280.9 L861.7,271.5 L862.6,269.7 L863.5,268.0 L864.6,266.3 L865.8,264.7 L869.1,260.8 L870.4,259.3 L871.9,258.1 L873.6,257.1 L875.4,256.3 L881.4,254.1 L883.2,253.3 L885.1,252.6 L886.9,251.8 L888.7,251.0 L892.4,249.3 L894.0,248.8 L895.1,249.0 L895.7,250.0 L895.9,251.6 L893.9,296.0 L893.8,298.0 L893.7,300.0 L893.7,302.0 L893.7,304.0 L894.0,596.0 L894.0,598.0 L894.0,600.0 L894.0,602.0 L894.1,604.0 L895.3,657.0 L895.3,659.0 L895.5,661.0 L895.7,662.9 L895.9,664.9 L899.8,690.7 L900.1,692.6 L900.6,694.6 L901.1,696.5 L901.7,698.4 L907.5,714.4 L908.2,716.2 L909.2,717.9 L910.4,719.4 L911.8,720.8 L919.3,727.3 L920.8,728.5 L922.5,729.5 L924.3,730.2 L926.2,730.7 L936.8,732.6 L938.6,732.7 L939.9,732.2 L940.7,731.0 L941.0,729.3 L942.6,704.0 L942.7,702.0 L942.7,700.0 L942.8,698.0 L942.8,696.0 L944.5,404.0 L944.5,402.0 L944.5,400.0 L944.6,398.0 L944.7,396.0 L948.8,322.3 L949.0,320.3 L949.1,318.3 L949.4,316.3 L949.6,314.3 L953.5,288.6 L953.8,286.6 L954.3,284.7 L954.8,282.7 L955.4,280.8 L959.6,268.2 L960.3,266.4 L961.3,264.7 L962.5,263.2 L963.9,261.8 L969.6,256.9 L971.1,255.7 L972.7,254.5 L974.3,253.3 L976.0,252.2 L982.7,248.0 L984.4,247.0 L986.1,245.9 L987.7,244.8 L989.4,243.7 L990.3,243.1 L991.8,242.4 L992.7,242.4 L993.2,243.3 L993.3,244.9 L988.8,296.0 L988.7,298.0 L988.6,300.0 L988.5,302.0 L988.5,304.0 L989.0,716.0 L989.0,718.0 L989.0,720.0 L989.1,722.0 L989.1,724.0 L990.4,776.0 L990.5,778.0 L990.8,780.0 L991.1,781.9 L991.7,783.8 L996.0,798.1 L996.7,799.9 L997.5,801.8 L998.4,803.5 L999.4,805.2 L1005.1,813.7 L1006.3,815.3 L1007.7,816.6 L1009.2,817.8 L1010.9,818.8 L1017.2,822.0 L1019.0,822.8 L1020.9,823.5 L1022.7,824.1 L1024.7,824.6 L1032.0,826.3 L1033.7,826.4 L1035.0,825.9 L1035.7,824.8 L1036.0,823.1 L1036.9,784.0 L1037.0,782.0 L1037.0,780.0 L1037.0,778.0 L1037.0,776.0 L1040.0,394.0 L1040.0,392.0 L1040.0,390.0 L1040.0,388.0 L1040.1,386.0 L1041.5,322.3 L1041.6,320.3 L1041.7,318.3 L1041.9,316.3 L1042.2,314.3 L1046.1,288.6 L1046.4,286.6 L1046.8,284.7 L1047.3,282.7 L1047.9,280.8 L1052.1,268.2 L1052.8,266.4 L1053.7,264.6 L1054.7,262.9 L1055.9,261.4 L1059.2,257.4 L1060.6,255.9 L1062.0,254.5 L1063.5,253.2 L1065.1,252.0 L1070.3,248.2 L1072.0,247.1 L1073.6,246.1 L1075.3,245.1 L1076.9,244.2 L1076.9,244.2 L1078.4,243.8 L1079.5,244.0 L1080.1,244.9 L1080.4,246.6 L1081.0,296.0 L1081.0,298.0 L1081.0,300.0 L1081.0,302.0 L1081.0,304.0 L1081.5,796.0 L1081.5,798.0 L1081.5,800.0 L1081.6,802.0 L1081.7,804.0 L1082.8,826.5 L1083.0,828.5 L1083.1,830.5 L1083.4,832.5 L1083.6,834.4 L1087.5,860.2 L1087.8,862.1 L1088.3,864.1 L1088.9,866.0 L1089.5,867.9 L1095.1,882.3 L1095.9,884.1 L1096.9,885.7 L1098.1,887.2 L1099.5,888.6 L1105.2,893.5 L1106.8,894.7 L1108.5,895.7 L1110.3,896.5 L1112.2,897.1 L1117.9,898.5 L1119.8,898.9 L1121.8,899.1 L1123.7,899.2 L1125.7,899.1 L1126.2,899.0 L1127.9,898.6 L1129.2,897.7 L1130.0,896.4 L1130.3,894.6 L1131.8,864.0 L1131.9,862.0 L1132.0,860.0 L1132.0,858.0 L1132.0,856.0 L1134.0,394.0 L1134.0,392.0 L1134.0,390.0 L1134.0,388.0 L1134.1,386.0 L1135.4,322.3 L1135.5,320.3 L1135.6,318.3 L1135.8,316.3 L1136.1,314.3 L1141.7,271.8 L1142.1,269.8 L1142.6,267.9 L1143.2,266.0 L1144.1,264.2 L1150.6,251.2 L1151.5,249.4 L1152.6,247.8 L1153.8,246.2 L1155.2,244.8 L1161.3,238.7 L1162.8,237.3 L1164.4,236.2 L1166.1,235.3 L1167.9,234.6 L1170.4,233.7 L1172.1,233.4 L1173.3,233.8 L1174.0,234.8 L1174.3,236.5 L1174.5,296.0 L1174.5,298.0 L1174.5,300.0 L1174.5,302.0 L1174.5,304.0 L1175.0,816.0 L1175.0,818.0 L1175.0,820.0 L1175.0,822.0 L1175.1,824.0 L1175.5,843.3 L1175.6,845.3 L1175.7,847.3 L1175.8,849.3 L1176.0,851.3 L1180.2,893.8 L1180.5,895.8 L1180.8,897.8 L1181.2,899.7 L1181.6,901.7 L1188.1,927.6 L1188.7,929.5 L1189.4,931.3 L1190.4,933.0 L1191.5,934.6 L1198.4,943.4 L1199.7,944.9 L1201.2,946.1 L1202.8,947.1 L1204.6,947.9 L1212.2,950.4 L1214.1,950.9 L1216.0,951.2 L1218.0,951.3 L1220.0,951.2 L1220.4,951.2 L1222.2,950.8 L1223.4,949.9 L1224.3,948.6 L1224.6,946.8 L1226.8,904.0 L1226.9,902.0 L1227.0,900.0 L1227.0,898.0 L1227.0,896.0 L1228.5,394.0 L1228.5,392.0 L1228.5,390.0 L1228.5,388.0 L1228.6,386.0 L1229.7,322.3 L1229.8,320.3 L1229.9,318.3 L1230.0,316.3 L1230.2,314.3 L1234.3,280.2 L1234.6,278.2 L1235.1,276.3 L1235.6,274.4 L1236.3,272.5 L1243.4,254.7 L1244.2,252.9 L1245.1,251.1 L1246.1,249.4 L1247.2,247.7 L1254.4,237.4 L1255.6,235.9 L1257.0,234.4 L1258.5,233.2 L1260.1,232.0 L1266.8,227.8 L1268.2,227.2 L1269.3,227.3 L1270.0,228.1 L1270.2,229.7 L1270.5,296.0 L1270.5,298.0 L1270.5,300.0 L1270.5,302.0 L1270.5,304.0 L1271.0,876.0 L1271.0,878.0 L1271.0,880.0 L1271.0,882.0 L1271.1,884.0 L1271.5,910.6 L1271.5,912.6 L1271.6,914.6 L1271.7,916.6 L1271.9,918.6 L1276.2,961.1 L1276.4,963.1 L1276.8,965.1 L1277.2,967.0 L1277.8,968.9 L1282.5,983.5 L1283.2,985.4 L1284.1,987.1 L1285.1,988.8 L1286.4,990.3 L1291.2,996.1 L1292.6,997.4 L1294.2,998.6 L1295.9,999.4 L1297.7,1000.1 L1303.4,1001.5 L1305.4,1001.9 L1307.3,1002.2 L1309.3,1002.3 L1311.3,1002.3 L1313.4,1002.2 L1315.2,1001.8 L1316.5,1001.0 L1317.3,999.7 L1317.6,998.0 L1319.8,954.0 L1319.9,952.0 L1320.0,950.0 L1320.0,948.0 L1320.0,946.0 L1322.0,394.0 L1322.0,392.0 L1322.0,390.0 L1322.1,388.0 L1322.1,386.0 L1323.9,322.3 L1324.0,320.3 L1324.1,318.3 L1324.4,316.3 L1324.6,314.3 L1330.1,280.2 L1330.5,278.2 L1330.9,276.3 L1331.5,274.4 L1332.2,272.5 L1339.3,254.7 L1340.1,252.8 L1340.9,251.0 L1341.8,249.2 L1342.7,247.4 L1350.7,232.6 L1351.7,230.9 L1352.8,229.3 L1354.1,227.7 L1355.4,226.3 L1361.6,220.1 L1362.8,219.2 L1363.7,219.0 L1364.3,219.7 L1364.5,221.3 L1365.9,296.0 L1366.0,298.0 L1366.0,300.0 L1366.0,302.0 L1366.0,304.0 L1366.5,926.0 L1366.5,928.0 L1366.5,930.0 L1366.6,932.0 L1366.6,934.0 L1367.8,966.5 L1367.8,968.5 L1368.0,970.5 L1368.2,972.5 L1368.4,974.4 L1372.4,1003.5 L1372.7,1005.5 L1373.2,1007.4 L1373.8,1009.3 L1374.5,1011.2 L1379.8,1024.0 L1380.7,1025.8 L1381.7,1027.5 L1382.8,1029.1 L1384.2,1030.5 L1392.0,1038.3 L1393.4,1039.7 L1395.0,1040.9 L1396.7,1042.0 L1398.4,1042.9 L1403.0,1045.3 L1404.7,1046.0 L1406.3,1046.5 L1407.8,1046.8 L1409.1,1046.8 L1409.1,1046.8 L1410.2,1046.4 L1411.0,1045.6 L1411.6,1044.3 L1411.8,1042.5 L1412.9,1004.0 L1412.9,1002.0 L1413.0,1000.0 L1413.0,998.0 L1413.0,996.0 L1415.0,394.0 L1415.0,392.0 L1415.0,390.0 L1415.1,388.0 L1415.2,386.0 L1418.1,322.3 L1418.2,320.3 L1418.4,318.3 L1418.6,316.3 L1418.9,314.3 L1424.3,280.2 L1424.7,278.2 L1425.2,276.3 L1425.7,274.3 L1426.4,272.5 L1435.4,248.0 L1436.1,246.1 L1437.0,244.4 L1438.0,242.7 L1439.1,241.0 L1447.9,229.0 L1449.1,227.4 L1450.5,226.0 L1452.0,224.8 L1453.6,223.7 L1455.2,222.7 L1456.7,222.1 L1457.8,222.2 L1458.5,223.1 L1458.7,224.7 L1459.9,296.0 L1460.0,298.0 L1460.0,300.0 L1460.0,302.0 L1460.0,304.0 L1460.5,956.0 L1460.5,958.0 L1460.5,960.0 L1460.6,962.0 L1460.6,964.0 L1462.0,1000.1 L1462.1,1002.1 L1462.2,1004.1 L1462.4,1006.1 L1462.6,1008.1 L1466.8,1047.3 L1467.0,1049.3 L1467.4,1051.2 L1467.9,1053.1 L1468.4,1055.1 L1474.3,1072.7 L1475.0,1074.6 L1475.9,1076.4 L1476.8,1078.1 L1477.9,1079.8 L1481.7,1085.0 L1482.9,1086.5 L1484.4,1087.7 L1486.0,1088.7 L1487.9,1089.4 L1491.9,1090.5 L1493.9,1091.0 L1495.8,1091.3 L1497.8,1091.3 L1499.8,1091.2 L1503.6,1090.8 L1505.3,1090.3 L1506.6,1089.4 L1507.4,1088.1 L1507.7,1086.3 L1508.9,1044.0 L1508.9,1042.0 L1509.0,1040.0 L1509.0,1038.0 L1509.0,1036.0 L1510.0,394.0 L1510.0,392.0 L1510.0,390.0 L1510.0,388.0 L1510.1,386.0 L1511.0,339.1 L1511.0,337.1 L1511.1,335.1 L1511.2,333.1 L1511.3,331.1 L1514.2,288.6 L1514.3,286.6 L1514.6,284.6 L1514.9,282.7 L1515.2,280.7 L1520.4,254.9 L1520.8,252.9 L1521.3,251.0 L1521.9,249.1 L1522.6,247.3 L1529.8,229.4 L1530.6,227.6 L1531.5,225.8 L1532.5,224.1 L1533.6,222.4 L1540.7,212.2 L1541.9,210.6 L1543.2,209.0 L1544.6,207.6 L1546.0,206.2 L1551.5,201.3" stroke="#262626" stroke-width="3.5"/>
<path d="M338.5,195.4 L341.9,196.3 L343.4,196.9 L344.6,197.9 L345.5,199.3 L346.0,201.0 M348.7,213.9 L349.2,215.9 L349.7,217.8 L350.9,221.9 L351.6,223.6 L352.5,225.1 L353.8,226.2 L355.3,227.0 L355.3,227.0 L357.1,227.6 L358.8,228.1 L360.7,228.6 L362.6,229.1 L375.0,231.6 L376.9,232.1 L378.9,232.6 L380.8,233.1 L382.7,233.8 L392.0,237.0 L393.9,237.6 L395.8,238.0 L397.7,238.3 L399.7,238.3 L417.0,238.3 L419.0,238.4 L421.0,238.5 L423.0,238.6 L424.9,238.8 L430.5,239.5 L432.4,239.7 L434.4,239.8 L436.4,239.7 L438.4,239.5 L450.7,238.0 L452.5,238.0 L453.9,238.6 L455.0,239.7 L455.8,241.3 L456.0,242.1 L456.8,243.8 L457.9,245.0 L459.3,245.7 L461.1,245.9 L467.5,245.9 L469.4,245.9 L471.4,245.8 L473.4,245.5 L475.4,245.3 L477.6,244.9 L479.5,244.7 L481.4,244.9 L483.2,245.4 L485.0,246.3 L486.5,247.2 L488.2,248.0 L489.9,248.2 L491.5,247.8 L493.2,246.9 L493.5,246.6 L495.0,245.4 L496.5,244.0 L497.8,242.6 L499.1,241.0 L499.3,240.7 L500.6,239.2 L502.1,238.0 L503.8,237.1 L505.6,236.4 L509.7,235.2 L511.6,234.9 L513.4,235.0 L515.1,235.6 L516.7,236.5 L517.1,236.8 L518.6,237.7 L520.1,237.9 L521.5,237.4 L522.8,236.2 L522.8,236.2 L524.1,235.0 L525.7,234.2 L527.4,233.9 L529.2,234.0 L534.8,235.1 L536.6,235.7 L537.9,236.6 L538.8,238.0 M543.6,269.1 L544.4,270.9 L545.4,272.5 L546.6,274.0 L549.4,276.7 L550.9,278.0 L552.5,279.1 L554.2,279.9 L556.1,280.4 L560.1,281.3 L562.1,281.6 L564.0,281.9 L566.0,282.2 L568.0,282.3 L575.2,282.7 L577.1,282.9 L579.1,283.1 L581.1,283.4 L583.1,283.7 L583.6,283.8 L585.4,283.9 L586.6,283.4 L587.4,282.3 M588.7,244.9 L589.1,243.8 L589.7,243.0 L589.7,243.0 L590.5,242.4 L591.6,241.8 L593.0,241.2 L594.8,240.6 L602.2,238.6 L604.2,238.1 L606.1,237.6 L608.1,237.2 L610.0,236.9 L618.9,235.6 L620.9,235.4 L622.8,235.4 L624.5,235.7 L626.3,236.2 L626.3,236.2 L627.8,237.0 L628.8,238.2 L629.5,239.7 M635.5,312.7 L636.1,314.5 L637.0,316.2 L638.1,317.7 L639.6,318.9 L644.9,322.7 L646.6,323.8 L648.3,324.6 L650.1,325.3 L652.1,325.8 L661.1,327.6 L663.0,328.0 L665.0,328.3 L667.0,328.6 L668.9,328.9 L672.8,329.5 L674.5,329.5 L675.8,328.9 L676.5,327.8 M678.5,261.5 L679.2,259.7 L680.1,258.2 L681.5,256.8 L687.2,251.9 L688.7,250.6 L690.4,249.5 L692.1,248.5 L693.9,247.7 L700.0,245.0 L701.9,244.3 L703.8,243.8 L705.7,243.5 L707.7,243.4 L716.0,243.4 L717.7,243.4 L718.6,243.5 L718.9,243.6 L718.4,243.8 L718.4,243.8 L717.9,244.1 M717.9,244.6 L718.3,245.2 L719.4,245.9 M719.4,245.9 L720.5,246.9 L721.2,248.2 L721.7,249.7 M727.2,381.1 L727.7,383.0 L728.5,384.8 L729.5,386.4 L730.7,387.9 L739.3,397.1 L740.7,398.4 L742.3,399.6 L743.9,400.6 L745.8,401.3 L752.2,403.7 L754.1,404.3 L756.1,404.7 L758.0,405.1 L760.0,405.3 L764.0,405.7 L765.8,405.6 L767.0,404.9 L767.7,403.7 M770.5,278.2 L771.0,276.3 L771.8,274.5 L772.7,272.7 L775.4,267.9 L776.5,266.2 L777.7,264.7 L779.2,263.4 L780.7,262.2 L784.2,259.9 L785.9,258.9 L787.7,258.1 L789.5,257.4 L791.4,257.0 L797.0,255.9 L799.0,255.6 L801.0,255.4 L803.0,255.2 L805.0,255.2 L806.2,255.2 L808.0,255.4 L809.2,256.2 L810.0,257.4 M818.0,514.6 L818.6,516.5 L819.3,518.3 L824.7,531.1 L825.5,532.9 L826.5,534.6 L827.7,536.2 L829.0,537.6 L835.2,543.8 L836.6,545.0 L838.3,545.8 L840.0,546.1 L842.0,546.1 L847.5,545.4 L849.2,544.9 L850.5,544.0 L851.2,542.7 M856.8,284.7 L857.3,282.8 L858.0,280.9 L861.7,271.5 L862.6,269.7 L863.5,268.0 L864.6,266.3 L865.8,264.7 L869.1,260.8 L870.4,259.3 L871.9,258.1 L873.6,257.1 L875.4,256.3 L881.4,254.1 L883.2,253.3 L885.1,252.6 L886.9,251.8 L888.7,251.0 L892.4,249.3 L894.0,248.8 L895.1,249.0 L895.7,250.0 M900.6,694.6 L901.1,696.5 L901.7,698.4 L907.5,714.4 L908.2,716.2 L909.2,717.9 L910.4,719.4 L911.8,720.8 L919.3,727.3 L920.8,728.5 L922.5,729.5 L924.3,730.2 L926.2,730.7 L936.8,732.6 L938.6,732.7 L939.9,732.2 L940.7,731.0 M954.3,284.7 L954.8,282.7 L955.4,280.8 L959.6,268.2 L960.3,266.4 L961.3,264.7 L962.5,263.2 L963.9,261.8 L969.6,256.9 L971.1,255.7 L972.7,254.5 L974.3,253.3 L976.0,252.2 L982.7,248.0 L984.4,247.0 L986.1,245.9 L987.7,244.8 L989.4,243.7 L990.3,243.1 L991.8,242.4 L992.7,242.4 L993.2,243.3 M991.1,781.9 L991.7,783.8 L996.0,798.1 L996.7,799.9 L997.5,801.8 L998.4,803.5 L999.4,805.2 L1005.1,813.7 L1006.3,815.3 L1007.7,816.6 L1009.2,817.8 L1010.9,818.8 L1017.2,822.0 L1019.0,822.8 L1020.9,823.5 L1022.7,824.1 L1024.7,824.6 L1032.0,826.3 L1033.7,826.4 L1035.0,825.9 L1035.7,824.8 M1046.8,284.7 L1047.3,282.7 L1047.9,280.8 L1052.1,268.2 L1052.8,266.4 L1053.7,264.6 L1054.7,262.9 L1055.9,261.4 L1059.2,257.4 L1060.6,255.9 L1062.0,254.5 L1063.5,253.2 L1065.1,252.0 L1070.3,248.2 L1072.0,247.1 L1073.6,246.1 L1075.3,245.1 L1076.9,244.2 L1076.9,244.2 L1078.4,243.8 L1079.5,244.0 L1080.1,244.9 M1088.3,864.1 L1088.9,866.0 L1089.5,867.9 L1095.1,882.3 L1095.9,884.1 L1096.9,885.7 L1098.1,887.2 L1099.5,888.6 L1105.2,893.5 L1106.8,894.7 L1108.5,895.7 L1110.3,896.5 L1112.2,897.1 L1117.9,898.5 L1119.8,898.9 L1121.8,899.1 L1123.7,899.2 L1125.7,899.1 L1126.2,899.0 L1127.9,898.6 L1129.2,897.7 L1130.0,896.4 M1142.1,269.8 L1142.6,267.9 L1143.2,266.0 L1144.1,264.2 L1150.6,251.2 L1151.5,249.4 L1152.6,247.8 L1153.8,246.2 L1155.2,244.8 L1161.3,238.7 L1162.8,237.3 L1164.4,236.2 L1166.1,235.3 L1167.9,234.6 L1170.4,233.7 L1172.1,233.4 L1173.3,233.8 L1174.0,234.8 M1188.1,927.6 L1188.7,929.5 L1189.4,931.3 L1190.4,933.0 L1191.5,934.6 L1198.4,943.4 L1199.7,944.9 L1201.2,946.1 L1202.8,947.1 L1204.6,947.9 L1212.2,950.4 L1214.1,950.9 L1216.0,951.2 L1218.0,951.3 L1220.0,951.2 L1220.4,951.2 L1222.2,950.8 L1223.4,949.9 L1224.3,948.6 M1235.1,276.3 L1235.6,274.4 L1236.3,272.5 L1243.4,254.7 L1244.2,252.9 L1245.1,251.1 L1246.1,249.4 L1247.2,247.7 L1254.4,237.4 L1255.6,235.9 L1257.0,234.4 L1258.5,233.2 L1260.1,232.0 L1266.8,227.8 L1268.2,227.2 L1269.3,227.3 L1270.0,228.1 M1277.2,967.0 L1277.8,968.9 L1282.5,983.5 L1283.2,985.4 L1284.1,987.1 L1285.1,988.8 L1286.4,990.3 L1291.2,996.1 L1292.6,997.4 L1294.2,998.6 L1295.9,999.4 L1297.7,1000.1 L1303.4,1001.5 L1305.4,1001.9 L1307.3,1002.2 L1309.3,1002.3 L1311.3,1002.3 L1313.4,1002.2 L1315.2,1001.8 L1316.5,1001.0 L1317.3,999.7 M1330.9,276.3 L1331.5,274.4 L1332.2,272.5 L1339.3,254.7 L1340.1,252.8 L1340.9,251.0 L1341.8,249.2 L1342.7,247.4 L1350.7,232.6 L1351.7,230.9 L1352.8,229.3 L1354.1,227.7 L1355.4,226.3 L1361.6,220.1 L1362.8,219.2 L1363.7,219.0 L1364.3,219.7 M1373.2,1007.4 L1373.8,1009.3 L1374.5,1011.2 L1379.8,1024.0 L1380.7,1025.8 L1381.7,1027.5 L1382.8,1029.1 L1384.2,1030.5 L1392.0,1038.3 L1393.4,1039.7 L1395.0,1040.9 L1396.7,1042.0 L1398.4,1042.9 L1403.0,1045.3 L1404.7,1046.0 L1406.3,1046.5 L1407.8,1046.8 L1409.1,1046.8 L1409.1,1046.8 L1410.2,1046.4 L1411.0,1045.6 L1411.6,1044.3 M1425.2,276.3 L1425.7,274.3 L1426.4,272.5 L1435.4,248.0 L1436.1,246.1 L1437.0,244.4 L1438.0,242.7 L1439.1,241.0 L1447.9,229.0 L1449.1,227.4 L1450.5,226.0 L1452.0,224.8 L1453.6,223.7 L1455.2,222.7 L1456.7,222.1 L1457.8,222.2 L1458.5,223.1 M1467.9,1053.1 L1468.4,1055.1 L1474.3,1072.7 L1475.0,1074.6 L1475.9,1076.4 L1476.8,1078.1 L1477.9,1079.8 L1481.7,1085.0 L1482.9,1086.5 L1484.4,1087.7 L1486.0,1088.7 L1487.9,1089.4 L1491.9,1090.5 L1493.9,1091.0 L1495.8,1091.3 L1497.8,1091.3 L1499.8,1091.2 L1503.6,1090.8 L1505.3,1090.3 L1506.6,1089.4 L1507.4,1088.1 M1520.8,252.9 L1521.3,251.0 L1521.9,249.1 L1522.6,247.3 L1529.8,229.4 L1530.6,227.6 L1531.5,225.8 L1532.5,224.1 L1533.6,222.4 L1540.7,212.2 L1541.9,210.6 L1543.2,209.0 L1544.6,207.6 L1546.0,206.2 L1551.5,201.3" stroke="#262626" stroke-width="4.7"/>
<path d="M338.5,195.4 L341.9,196.3 L343.4,196.9 L344.6,197.9 L345.5,199.3 M351.6,223.6 L352.5,225.1 L353.8,226.2 L355.3,227.0 L355.3,227.0 L357.1,227.6 L358.8,228.1 L360.7,228.6 L362.6,229.1 L375.0,231.6 L376.9,232.1 L378.9,232.6 L380.8,233.1 L382.7,233.8 L392.0,237.0 L393.9,237.6 L395.8,238.0 L397.7,238.3 L399.7,238.3 L417.0,238.3 L419.0,238.4 L421.0,238.5 L423.0,238.6 L424.9,238.8 L430.5,239.5 L432.4,239.7 L434.4,239.8 L436.4,239.7 L438.4,239.5 L450.7,238.0 L452.5,238.0 L453.9,238.6 L455.0,239.7 M456.8,243.8 L457.9,245.0 L459.3,245.7 L461.1,245.9 L467.5,245.9 L469.4,245.9 L471.4,245.8 L473.4,245.5 L475.4,245.3 L477.6,244.9 L479.5,244.7 L481.4,244.9 L483.2,245.4 L485.0,246.3 L486.5,247.2 L488.2,248.0 L489.9,248.2 L491.5,247.8 L493.2,246.9 L493.5,246.6 L495.0,245.4 L496.5,244.0 L497.8,242.6 L499.1,241.0 L499.3,240.7 L500.6,239.2 L502.1,238.0 L503.8,237.1 L505.6,236.4 L509.7,235.2 L511.6,234.9 L513.4,235.0 L515.1,235.6 L516.7,236.5 L517.1,236.8 L518.6,237.7 L520.1,237.9 L521.5,237.4 L522.8,236.2 L522.8,236.2 L524.1,235.0 L525.7,234.2 L527.4,233.9 L529.2,234.0 L534.8,235.1 L536.6,235.7 L537.9,236.6 L538.8,238.0 M545.4,272.5 L546.6,274.0 L549.4,276.7 L550.9,278.0 L552.5,279.1 L554.2,279.9 L556.1,280.4 L560.1,281.3 L562.1,281.6 L564.0,281.9 L566.0,282.2 L568.0,282.3 L575.2,282.7 L577.1,282.9 L579.1,283.1 L581.1,283.4 L583.1,283.7 L583.6,283.8 L585.4,283.9 L586.6,283.4 L587.4,282.3 M589.1,243.8 L589.7,243.0 L589.7,243.0 L590.5,242.4 L591.6,241.8 L593.0,241.2 L594.8,240.6 L602.2,238.6 L604.2,238.1 L606.1,237.6 L608.1,237.2 L610.0,236.9 L618.9,235.6 L620.9,235.4 L622.8,235.4 L624.5,235.7 L626.3,236.2 L626.3,236.2 L627.8,237.0 L628.8,238.2 M637.0,316.2 L638.1,317.7 L639.6,318.9 L644.9,322.7 L646.6,323.8 L648.3,324.6 L650.1,325.3 L652.1,325.8 L661.1,327.6 L663.0,328.0 L665.0,328.3 L667.0,328.6 L668.9,328.9 L672.8,329.5 L674.5,329.5 L675.8,328.9 L676.5,327.8 M680.1,258.2 L681.5,256.8 L687.2,251.9 L688.7,250.6 L690.4,249.5 L692.1,248.5 L693.9,247.7 L700.0,245.0 L701.9,244.3 L703.8,243.8 L705.7,243.5 L707.7,243.4 L716.0,243.4 L717.7,243.4 L718.6,243.5 L718.9,243.6 L718.4,243.8 L718.4,243.8 L717.9,244.1 M717.9,244.6 L718.3,245.2 L719.4,245.9 M719.4,245.9 L720.5,246.9 M729.5,386.4 L730.7,387.9 L739.3,397.1 L740.7,398.4 L742.3,399.6 L743.9,400.6 L745.8,401.3 L752.2,403.7 L754.1,404.3 L756.1,404.7 L758.0,405.1 L760.0,405.3 L764.0,405.7 L765.8,405.6 L767.0,404.9 M775.4,267.9 L776.5,266.2 L777.7,264.7 L779.2,263.4 L780.7,262.2 L784.2,259.9 L785.9,258.9 L787.7,258.1 L789.5,257.4 L791.4,257.0 L797.0,255.9 L799.0,255.6 L801.0,255.4 L803.0,255.2 L805.0,255.2 L806.2,255.2 L808.0,255.4 L809.2,256.2 M826.5,534.6 L827.7,536.2 L829.0,537.6 L835.2,543.8 L836.6,545.0 L838.3,545.8 L840.0,546.1 L842.0,546.1 L847.5,545.4 L849.2,544.9 L850.5,544.0 M863.5,268.0 L864.6,266.3 L865.8,264.7 L869.1,260.8 L870.4,259.3 L871.9,258.1 L873.6,257.1 L875.4,256.3 L881.4,254.1 L883.2,253.3 L885.1,252.6 L886.9,251.8 L888.7,251.0 L892.4,249.3 L894.0,248.8 L895.1,249.0 L895.7,250.0 M909.2,717.9 L910.4,719.4 L911.8,720.8 L919.3,727.3 L920.8,728.5 L922.5,729.5 L924.3,730.2 L926.2,730.7 L936.8,732.6 L938.6,732.7 L939.9,732.2 L940.7,731.0 M961.3,264.7 L962.5,263.2 L963.9,261.8 L969.6,256.9 L971.1,255.7 L972.7,254.5 L974.3,253.3 L976.0,252.2 L982.7,248.0 L984.4,247.0 L986.1,245.9 L987.7,244.8 L989.4,243.7 L990.3,243.1 L991.8,242.4 L992.7,242.4 M999.4,805.2 L1005.1,813.7 L1006.3,815.3 L1007.7,816.6 L1009.2,817.8 L1010.9,818.8 L1017.2,822.0 L1019.0,822.8 L1020.9,823.5 L1022.7,824.1 L1024.7,824.6 L1032.0,826.3 L1033.7,826.4 L1035.0,825.9 L1035.7,824.8 M1054.7,262.9 L1055.9,261.4 L1059.2,257.4 L1060.6,255.9 L1062.0,254.5 L1063.5,253.2 L1065.1,252.0 L1070.3,248.2 L1072.0,247.1 L1073.6,246.1 L1075.3,245.1 L1076.9,244.2 L1076.9,244.2 L1078.4,243.8 L1079.5,244.0 L1080.1,244.9 M1096.9,885.7 L1098.1,887.2 L1099.5,888.6 L1105.2,893.5 L1106.8,894.7 L1108.5,895.7 L1110.3,896.5 L1112.2,897.1 L1117.9,898.5 L1119.8,898.9 L1121.8,899.1 L1123.7,899.2 L1125.7,899.1 L1126.2,899.0 L1127.9,898.6 L1129.2,897.7 M1151.5,249.4 L1152.6,247.8 L1153.8,246.2 L1155.2,244.8 L1161.3,238.7 L1162.8,237.3 L1164.4,236.2 L1166.1,235.3 L1167.9,234.6 L1170.4,233.7 L1172.1,233.4 L1173.3,233.8 L1174.0,234.8 M1190.4,933.0 L1191.5,934.6 L1198.4,943.4 L1199.7,944.9 L1201.2,946.1 L1202.8,947.1 L1204.6,947.9 L1212.2,950.4 L1214.1,950.9 L1216.0,951.2 L1218.0,951.3 L1220.0,951.2 L1220.4,951.2 L1222.2,950.8 L1223.4,949.9 M1246.1,249.4 L1247.2,247.7 L1254.4,237.4 L1255.6,235.9 L1257.0,234.4 L1258.5,233.2 L1260.1,232.0 L1266.8,227.8 L1268.2,227.2 L1269.3,227.3 L1270.0,228.1 M1284.1,987.1 L1285.1,988.8 L1286.4,990.3 L1291.2,996.1 L1292.6,997.4 L1294.2,998.6 L1295.9,999.4 L1297.7,1000.1 L1303.4,1001.5 L1305.4,1001.9 L1307.3,1002.2 L1309.3,1002.3 L1311.3,1002.3 L1313.4,1002.2 L1315.2,1001.8 L1316.5,1001.0 L1317.3,999.7 M1351.7,230.9 L1352.8,229.3 L1354.1,227.7 L1355.4,226.3 L1361.6,220.1 L1362.8,219.2 L1363.7,219.0 L1364.3,219.7 M1381.7,1027.5 L1382.8,1029.1 L1384.2,1030.5 L1392.0,1038.3 L1393.4,1039.7 L1395.0,1040.9 L1396.7,1042.0 L1398.4,1042.9 L1403.0,1045.3 L1404.7,1046.0 L1406.3,1046.5 L1407.8,1046.8 L1409.1,1046.8 L1409.1,1046.8 L1410.2,1046.4 L1411.0,1045.6 M1438.0,242.7 L1439.1,241.0 L1447.9,229.0 L1449.1,227.4 L1450.5,226.0 L1452.0,224.8 L1453.6,223.7 L1455.2,222.7 L1456.7,222.1 L1457.8,222.2 L1458.5,223.1 M1476.8,1078.1 L1477.9,1079.8 L1481.7,1085.0 L1482.9,1086.5 L1484.4,1087.7 L1486.0,1088.7 L1487.9,1089.4 L1491.9,1090.5 L1493.9,1091.0 L1495.8,1091.3 L1497.8,1091.3 L1499.8,1091.2 L1503.6,1090.8 L1505.3,1090.3 L1506.6,1089.4 M1532.5,224.1 L1533.6,222.4 L1540.7,212.2 L1541.9,210.6 L1543.2,209.0 L1544.6,207.6 L1546.0,206.2 L1551.5,201.3" stroke="#262626" stroke-width="5.3"/>
<path d="M1543.0,208.9 L1552.5,200.8 L1553.7,200.0 L1554.9,199.6 L1556.3,199.5 L1557.6,199.9 L1558.7,200.3 L1560.2,200.7 L1561.6,201.0 L1563.0,201.1 L1564.5,201.0 L1565.3,200.9 L1566.8,200.6 L1568.2,200.3 L1569.7,199.9 L1571.1,199.4 L1573.9,198.2 L1575.3,197.8 L1576.7,197.6 L1578.1,197.7 L1579.6,197.9 L1585.6,199.7 L1587.0,200.1 L1588.3,200.7 L1589.6,201.5 L1590.8,202.4 L1596.9,207.2" stroke="#707070" stroke-width="5"/>
</g>
<g filter="url(#by)" stroke="#8c8c8c" stroke-width="6.2" fill="none"><path d="M332.8,22 V1190"/></g>
<g filter="url(#bl)" stroke="#666" stroke-width="5.6" fill="none"><path d="M307,1166.5 H1880.8"/></g>
<g filter="url(#bl)" stroke="#666" stroke-width="4" fill="none" stroke-linecap="butt">
<path d="M307,187.5 H332.8"/>
<path d="M307,513.5 H332.8"/>
<path d="M307,839.5 H332.8"/>
<path d="M318.5,26.6 H332.8"/>
<path d="M318.5,352.6 H332.8"/>
<path d="M318.5,678.6 H332.8"/>
<path d="M318.5,1004.6 H332.8"/>
</g>
<g filter="url(#bl)" stroke="#707070" stroke-width="5" fill="none" stroke-linecap="butt">
<path d="M641.8,1166.0 V1189.5"/>
<path d="M950.9,1166.0 V1189.5"/>
<path d="M1259.9,1166.0 V1189.5"/>
<path d="M1569.0,1166.0 V1189.5"/>
<path d="M1878.0,1166.0 V1189.5"/>
<path d="M487.3,1166.0 V1180.5"/>
<path d="M796.4,1166.0 V1180.5"/>
<path d="M1105.4,1166.0 V1180.5"/>
<path d="M1414.4,1166.0 V1180.5"/>
<path d="M1723.5,1166.0 V1180.5"/>
</g>
<g filter="url(#bl)" stroke="#808080" stroke-width="4.2" fill="none">
<path d="M1528,366.5 H1642"/>
<path d="M1530,710 H1646"/>
<path d="M1527,1082.5 H1642"/>
</g>
<g filter="url(#bl)">
<rect x="1916.5" y="255" width="444" height="758.5" rx="2.5" fill="none" stroke="#5a5a5a" stroke-width="5.2"/>
<rect x="2011.5" y="350" width="85.5" height="663" fill="#222"/>
<rect x="2177.5" y="887.5" width="84.5" height="125.5" fill="#222"/>
</g>
<g filter="url(#bt)" stroke="#0c0c0c" stroke-width="1.5" stroke-linejoin="round">
<text transform="translate(333.5,1270.5) scale(0.95,1.005)" font-size="74.5" text-anchor="middle" stroke-width="1.2">0</text>
<text transform="translate(646.0,1270.5) scale(0.95,1.005)" font-size="74.5" text-anchor="middle" stroke-width="1.2" letter-spacing="2.2">100</text>
<text transform="translate(952.5,1270.5) scale(0.95,1.005)" font-size="74.5" text-anchor="middle" stroke-width="1.2" letter-spacing="2.2">200</text>
<text transform="translate(1262.0,1270.5) scale(0.95,1.005)" font-size="74.5" text-anchor="middle" stroke-width="1.2" letter-spacing="2.2">300</text>
<text transform="translate(1570.5,1270.5) scale(0.95,1.005)" font-size="74.5" text-anchor="middle" stroke-width="1.2" letter-spacing="2.2">400</text>
<text transform="translate(1881.0,1270.5) scale(0.95,1.005)" font-size="74.5" text-anchor="middle" stroke-width="1.2" letter-spacing="2.2">500</text>
<text transform="translate(283.5,213.3) scale(0.95,1.005)" font-size="74.5" text-anchor="end" stroke-width="1.2">0</text>
<text transform="translate(285.5,539.3) scale(0.95,1.005)" font-size="74.5" text-anchor="end" stroke-width="1.2" letter-spacing="2.2">-100</text>
<text transform="translate(285.5,865.3) scale(0.95,1.005)" font-size="74.5" text-anchor="end" stroke-width="1.2" letter-spacing="2.2">-200</text>
<text transform="translate(285.5,1191.3) scale(0.95,1.005)" font-size="74.5" text-anchor="end" stroke-width="1.2" letter-spacing="2.2">-300</text>
<text transform="translate(1104.5,1390.5) scale(1.005,1.03)" font-size="76" text-anchor="middle">Time [min]</text>
<text transform="translate(80.5,607.5) rotate(-89.3) scale(1.016,1.0)" font-size="76" text-anchor="middle">Frequency Shift [Hz]</text>
<text transform="translate(1880.5,631.0) rotate(-90) scale(0.99,1.0)" font-size="73.5" text-anchor="middle">Relative response</text>
<text transform="translate(2058.5,1089.0) scale(1.0,1.0)" font-size="73" text-anchor="middle">MIP</text>
<text transform="translate(2226.0,1089.0) scale(1.0,1.0)" font-size="73" text-anchor="middle">NIP</text>
<text transform="translate(473.0,301.0) scale(0.88,1.04)" font-size="59" text-anchor="middle" stroke-width="1.5">1</text>
<text transform="translate(566.5,339.0) scale(0.96,1.04)" font-size="59" text-anchor="middle" stroke-width="1.5">5</text>
<text transform="translate(653.0,389.0) scale(0.96,1.04)" font-size="59" text-anchor="middle" stroke-width="1.5">10</text>
<text transform="translate(753.0,464.0) scale(0.96,1.04)" font-size="59" text-anchor="middle" stroke-width="1.5">20</text>
<text transform="translate(837.0,612.0) scale(0.96,1.04)" font-size="59" text-anchor="middle" stroke-width="1.5">50</text>
<text transform="translate(925.5,785.0) scale(0.96,1.04)" font-size="59" text-anchor="middle" stroke-width="1.5">100</text>
<text transform="translate(1026.0,884.0) scale(0.96,1.04)" font-size="59" text-anchor="middle" stroke-width="1.5">150</text>
<text transform="translate(1110.0,951.5) scale(0.96,1.04)" font-size="59" text-anchor="middle" stroke-width="1.5">200</text>
<text transform="translate(1209.0,1003.5) scale(0.96,1.04)" font-size="59" text-anchor="middle" stroke-width="1.5">250</text>
<text transform="translate(1301.5,1053.0) scale(0.96,1.04)" font-size="59" text-anchor="middle" stroke-width="1.5">300</text>
<text transform="translate(1409.0,1094.0) scale(0.96,1.04)" font-size="59" text-anchor="middle" stroke-width="1.5">350</text>
<text transform="translate(1491.5,1146.0) scale(0.96,1.04)" font-size="59" text-anchor="middle" stroke-width="1.5">400</text>
<text x="1719.3" y="379.3" font-size="43.5" text-anchor="middle" class="b" stroke="#1a1a1a" stroke-width="0.5" style="fill:#1a1a1a">TEOT</text>
<text x="1703.5" y="722.5" font-size="43.5" text-anchor="middle" class="b" stroke="#1a1a1a" stroke-width="0.5" style="fill:#1a1a1a">TPT</text>
<text x="1705" y="1094.5" font-size="43.5" text-anchor="middle" class="b" stroke="#1a1a1a" stroke-width="0.5" style="fill:#1a1a1a">TBT</text>
</g>
</svg></body></html>
